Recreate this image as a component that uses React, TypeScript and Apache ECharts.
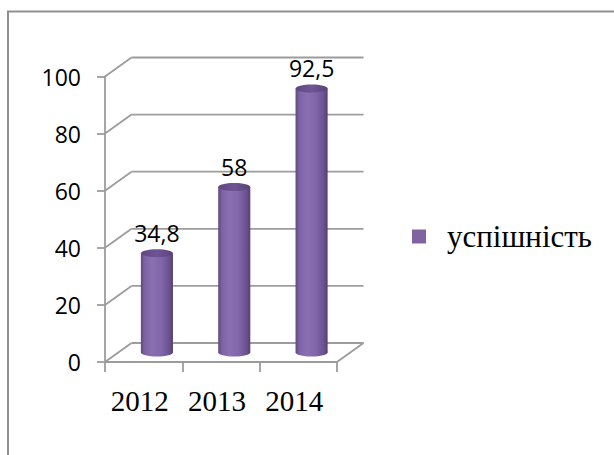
import React, { useEffect, useRef } from 'react';
import * as echarts from 'echarts';

const categories: string[] = ['2012', '2013', '2014'];
const seriesName = 'успішність';
const values: number[] = [34.8, 58, 92.5];
const yTicks: number[] = [0, 20, 40, 60, 80, 100];

const DX = 26.5;
const DY = -19;
const GRID = '#9c9c9c';
const PURPLE = '#8064a2';

export default function App() {
  const ref = useRef<HTMLDivElement>(null);
  useEffect(() => {
    document.body.style.margin = '0';
    const chart = echarts.init(ref.current as HTMLDivElement, null, { renderer: 'svg' });
    const lineStyle = { stroke: GRID, lineWidth: 1.8 };
    const option: any = {
      animation: false,
      backgroundColor: '#ffffff',
      graphic: [
        {
          type: 'rect',
          shape: { x: 8, y: 11.5, width: 700, height: 600 },
          style: { fill: 'none', stroke: '#8f8f8f', lineWidth: 2 },
          silent: true,
          z: -10,
        },
      ],
      grid: { left: 105, top: 76.5, width: 232, height: 285.5 },
      xAxis: {
        type: 'category',
        data: categories,
        boundaryGap: true,
        axisLine: { show: true, lineStyle: { color: GRID, width: 1.8 } },
        axisTick: { show: true, length: 10, lineStyle: { color: GRID, width: 1.8 } },
        axisLabel: {
          fontFamily: 'Liberation Serif',
          fontSize: 29,
          color: '#000',
          margin: 24,
          padding: [0, 8, 0, 0],
        },
        splitLine: { show: false },
      },
      yAxis: {
        type: 'value',
        min: 0,
        max: 100,
        interval: 20,
        axisLine: { show: true, lineStyle: { color: GRID, width: 1.8 } },
        axisTick: { show: true, length: 8, lineStyle: { color: GRID, width: 1.8 } },
        axisLabel: { fontFamily: 'Open Sans', fontSize: 23, color: '#000', margin: 24 },
        splitLine: { show: false },
      },
      legend: {
        data: [seriesName],
        left: 412,
        top: 221,
        padding: 0,
        icon: 'rect',
        itemWidth: 14,
        itemHeight: 14,
        textStyle: {
          fontFamily: 'Liberation Serif',
          fontSize: 31,
          color: '#000',
          padding: [0, 0, 0, 16],
        },
      },
      series: [
        {
          type: 'custom',
          name: 'frame',
          clip: false,
          silent: true,
          z: 1,
          data: yTicks.map((v) => [0, v]),
          renderItem: (params: any, api: any) => {
            const v = api.value(1);
            const cs = params.coordSys;
            const y = api.coord([0, v])[1];
            const x0 = cs.x;
            const x1 = cs.x + cs.width;
            const children: any[] = [
              { type: 'line', shape: { x1: x0, y1: y, x2: x0 + DX, y2: y + DY }, style: lineStyle },
              { type: 'line', shape: { x1: x0 + DX, y1: y + DY, x2: x1 + DX, y2: y + DY }, style: lineStyle },
            ];
            if (v === 0) {
              children.push({ type: 'line', shape: { x1: x1, y1: y, x2: x1 + DX, y2: y + DY }, style: lineStyle });
            }
            return { type: 'group', children };
          },
        },
        {
          type: 'custom',
          name: seriesName,
          clip: false,
          z: 3,
          itemStyle: { color: PURPLE },
          data: values.map((v, i) => [i, v]),
          renderItem: (params: any, api: any) => {
            const i = api.value(0);
            const v = api.value(1);
            const top = api.coord([i, v]);
            const base = api.coord([i, 0]);
            const cx = top[0] + DX / 2;
            const yt = top[1] + DY / 2;
            const yb = base[1] + DY / 2;
            const band = api.size([1, 0])[0];
            const rx = (band * 0.415) / 2;
            const ry = 4;
            const bodyGrad = {
              type: 'linear', x: 0, y: 0, x2: 1, y2: 0, global: false,
              colorStops: [
                { offset: 0, color: '#614980' },
                { offset: 0.12, color: '#7d62a4' },
                { offset: 0.35, color: '#8a6fb1' },
                { offset: 0.65, color: '#8065a8' },
                { offset: 0.88, color: '#6a5190' },
                { offset: 1, color: '#563f71' },
              ],
            };
            const topGrad = {
              type: 'linear', x: 0, y: 0, x2: 1, y2: 0, global: false,
              colorStops: [
                { offset: 0, color: '#5f477e' },
                { offset: 0.5, color: '#6f5596' },
                { offset: 1, color: '#5a4376' },
              ],
            };
            return {
              type: 'group',
              children: [
                { type: 'ellipse', shape: { cx, cy: yb, rx, ry }, style: { fill: bodyGrad } },
                { type: 'rect', shape: { x: cx - rx, y: yt, width: rx * 2, height: yb - yt }, style: { fill: bodyGrad } },
                { type: 'ellipse', shape: { cx, cy: yt, rx, ry }, style: { fill: topGrad } },
                {
                  type: 'text',
                  x: cx,
                  y: yt - 20,
                  style: {
                    text: String(v).replace('.', ','),
                    fill: '#000',
                    fontSize: 23,
                    fontFamily: 'Open Sans',
                    align: 'center',
                    verticalAlign: 'middle',
                  },
                },
              ],
            };
          },
        },
      ],
    };
    chart.setOption(option);
    return () => chart.dispose();
  }, []);
  return <div ref={ref} style={{ width: 614, height: 455 }} />;
}
